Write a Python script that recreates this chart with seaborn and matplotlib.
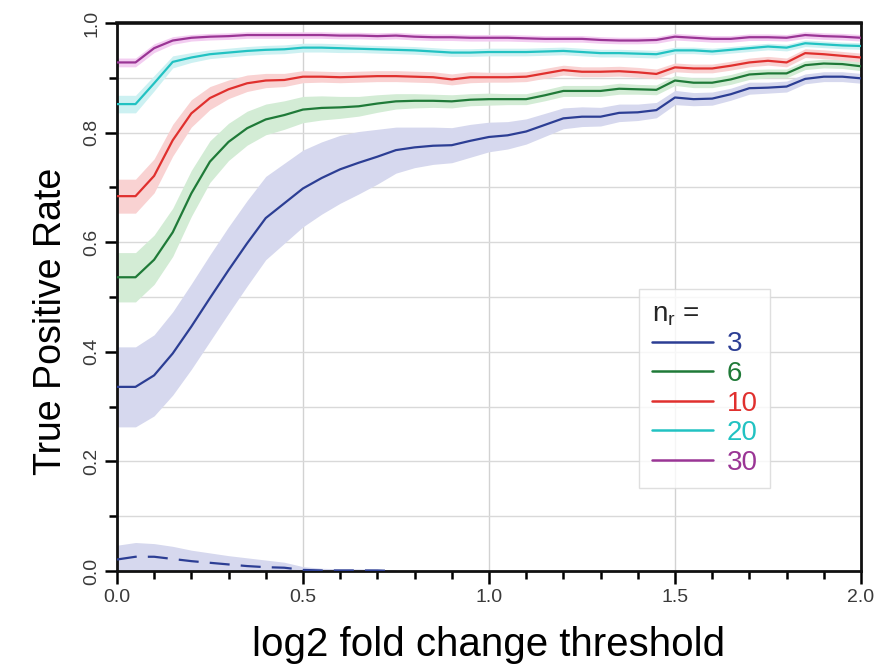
import numpy as np
import pandas as pd
import matplotlib
matplotlib.use("Agg")
import matplotlib.pyplot as plt
from matplotlib.lines import Line2D
import seaborn as sns

# log2 fold-change thresholds
thresholds = [0.00, 0.05, 0.10, 0.15, 0.20, 0.25, 0.30, 0.35, 0.40, 0.45,
              0.50, 0.55, 0.60, 0.65, 0.70, 0.75, 0.80, 0.85, 0.90, 0.95,
              1.00, 1.05, 1.10, 1.15, 1.20, 1.25, 1.30, 1.35, 1.40, 1.45,
              1.50, 1.55, 1.60, 1.65, 1.70, 1.75, 1.80, 1.85, 1.90, 1.95, 2.00]

replicates = ["3", "6", "10", "20", "30"]

# mean true positive rate per replicate count
tpr_3 = [0.336, 0.336, 0.357, 0.397, 0.446, 0.498, 0.549, 0.598, 0.644, 0.671,
         0.698, 0.717, 0.733, 0.745, 0.756, 0.768, 0.773, 0.776, 0.777, 0.785,
         0.792, 0.795, 0.802, 0.814, 0.826, 0.829, 0.829, 0.836, 0.837, 0.841,
         0.864, 0.861, 0.862, 0.870, 0.881, 0.882, 0.884, 0.898, 0.902, 0.902, 0.899]
tpr_6 = [0.536, 0.536, 0.568, 0.618, 0.689, 0.747, 0.783, 0.808, 0.824, 0.832,
         0.842, 0.845, 0.846, 0.848, 0.853, 0.857, 0.858, 0.858, 0.857, 0.860,
         0.861, 0.861, 0.861, 0.868, 0.876, 0.876, 0.876, 0.880, 0.879, 0.878,
         0.895, 0.891, 0.891, 0.897, 0.906, 0.908, 0.908, 0.923, 0.926, 0.925, 0.921]
tpr_10 = [0.684, 0.684, 0.721, 0.786, 0.835, 0.863, 0.879, 0.890, 0.895, 0.896,
          0.902, 0.902, 0.901, 0.902, 0.903, 0.903, 0.902, 0.901, 0.897, 0.901,
          0.901, 0.901, 0.902, 0.908, 0.914, 0.911, 0.911, 0.912, 0.910, 0.907,
          0.919, 0.917, 0.917, 0.922, 0.928, 0.931, 0.928, 0.945, 0.943, 0.940, 0.937]
tpr_20 = [0.852, 0.852, 0.890, 0.929, 0.937, 0.943, 0.946, 0.949, 0.951, 0.952,
          0.955, 0.955, 0.954, 0.953, 0.952, 0.951, 0.950, 0.948, 0.946, 0.946,
          0.947, 0.947, 0.947, 0.948, 0.949, 0.947, 0.945, 0.945, 0.944, 0.943,
          0.950, 0.950, 0.948, 0.951, 0.954, 0.957, 0.955, 0.963, 0.961, 0.959, 0.958]
tpr_30 = [0.928, 0.928, 0.954, 0.968, 0.973, 0.975, 0.976, 0.978, 0.978, 0.978,
          0.978, 0.978, 0.977, 0.977, 0.976, 0.977, 0.975, 0.974, 0.974, 0.973,
          0.973, 0.973, 0.972, 0.971, 0.971, 0.971, 0.969, 0.968, 0.968, 0.969,
          0.975, 0.973, 0.971, 0.971, 0.974, 0.974, 0.973, 0.978, 0.976, 0.975, 0.973]

# half-width of the shaded spread around each mean
spread_3 = [0.073, 0.073, 0.074, 0.076, 0.078, 0.079, 0.079, 0.078, 0.076, 0.073,
            0.070, 0.066, 0.062, 0.057, 0.050, 0.042, 0.037, 0.034, 0.032, 0.030,
            0.027, 0.025, 0.023, 0.021, 0.019, 0.018, 0.017, 0.016, 0.015, 0.014,
            0.013, 0.012, 0.012, 0.011, 0.011, 0.010, 0.010, 0.009, 0.009, 0.009, 0.009]
spread_6 = [0.045, 0.045, 0.045, 0.044, 0.042, 0.038, 0.034, 0.031, 0.028, 0.026,
            0.024, 0.022, 0.020, 0.018, 0.016, 0.014, 0.013, 0.012, 0.012, 0.011,
            0.011, 0.010, 0.010, 0.010, 0.010, 0.010, 0.010, 0.010, 0.009, 0.009,
            0.009, 0.009, 0.009, 0.009, 0.009, 0.008, 0.008, 0.008, 0.008, 0.008, 0.008]
spread_10 = [0.031, 0.031, 0.031, 0.029, 0.025, 0.021, 0.017, 0.015, 0.013, 0.012,
             0.011, 0.010, 0.010, 0.010, 0.010, 0.010, 0.010, 0.010, 0.010, 0.010,
             0.009, 0.009, 0.009, 0.009, 0.009, 0.009, 0.009, 0.009, 0.009, 0.009,
             0.008, 0.008, 0.008, 0.008, 0.008, 0.008, 0.008, 0.008, 0.008, 0.008, 0.008]
spread_20 = [0.016, 0.016, 0.014, 0.011, 0.009, 0.008, 0.008, 0.008, 0.008, 0.008,
             0.008, 0.008, 0.008, 0.007, 0.007, 0.007, 0.007, 0.007, 0.007, 0.007,
             0.007, 0.007, 0.007, 0.007, 0.007, 0.007, 0.007, 0.007, 0.007, 0.007,
             0.006, 0.006, 0.006, 0.006, 0.006, 0.006, 0.006, 0.006, 0.006, 0.006, 0.006]
spread_30 = [0.008, 0.008, 0.008, 0.007, 0.006, 0.006, 0.006, 0.006, 0.006, 0.006,
             0.006, 0.006, 0.006, 0.006, 0.006, 0.006, 0.006, 0.006, 0.006, 0.006,
             0.006, 0.006, 0.006, 0.006, 0.006, 0.006, 0.006, 0.006, 0.006, 0.006,
             0.006, 0.006, 0.006, 0.006, 0.006, 0.006, 0.006, 0.006, 0.006, 0.006, 0.006]

# false-positive rate for n_r = 3 (dashed), only over the low thresholds
fp_thresholds = [0.00, 0.05, 0.10, 0.15, 0.20, 0.25, 0.30, 0.35,
                 0.40, 0.45, 0.50, 0.55, 0.60, 0.65, 0.70, 0.75]
fpr_3 = [0.021, 0.026, 0.026, 0.022, 0.018, 0.015, 0.012, 0.009,
         0.007, 0.006, 0.002, 0.001, 0.001, 0.001, 0.001, 0.000]
fpr_3_upper = [0.047, 0.052, 0.050, 0.045, 0.038, 0.033, 0.028, 0.024,
               0.020, 0.016, 0.008, 0.005, 0.004, 0.004, 0.003, 0.002]

line_colors = ["#2c3e94", "#1f7a38", "#e0302e", "#22c2c2", "#9a3595"]
band_colors = ["#d6d8ee", "#d3ecd5", "#f9d2d2", "#cdf1f2", "#f3cdf1"]

means = [tpr_3, tpr_6, tpr_10, tpr_20, tpr_30]
spreads = [spread_3, spread_6, spread_10, spread_20, spread_30]

frames = []
for lab, m in zip(replicates, means):
    frames.append(pd.DataFrame({"threshold": thresholds, "tpr": m, "n_r": lab}))
df = pd.concat(frames, ignore_index=True)

sns.set_theme(style="white")
plt.rcParams["font.family"] = ["Liberation Sans", "DejaVu Sans"]
plt.rcParams["mathtext.fontset"] = "custom"
plt.rcParams["mathtext.rm"] = "Liberation Sans"
plt.rcParams["mathtext.it"] = "Liberation Sans"

fig = plt.figure(figsize=(8.79, 6.68), dpi=100)
ax = fig.add_axes([0.133, 0.1452, 0.8465, 0.8204])

# grid
for xv in [0.5, 1.0, 1.5]:
    ax.axvline(xv, color="#d2d2d2", lw=1.0, zorder=0)
for yv in np.arange(0.1, 1.0, 0.1):
    ax.axhline(yv, color="#d9d9d9", lw=1.0, zorder=0)

# shaded spreads
x = np.array(thresholds)
for m, s, bc in zip(means, spreads, band_colors):
    m = np.array(m)
    s = np.array(s)
    ax.fill_between(x, m - s, m + s, color=bc, lw=0, zorder=1)
ax.fill_between(fp_thresholds, 0, fpr_3_upper, color=band_colors[0], lw=0, zorder=1)

# mean curves
sns.lineplot(data=df, x="threshold", y="tpr", hue="n_r", hue_order=replicates,
             palette=line_colors, linewidth=1.6, legend=False, ax=ax, zorder=3)
ax.plot(fp_thresholds, fpr_3, color=line_colors[0], lw=1.6,
        dashes=(9, 5), zorder=3)

ax.set_xlim(0, 2.0)
ax.set_ylim(0, 1.0)
ax.set_xticks([0.0, 0.5, 1.0, 1.5, 2.0])
ax.set_xticklabels(["0.0", "0.5", "1.0", "1.5", "2.0"])
ax.set_xticks(np.arange(0, 2.01, 0.1), minor=True)
ax.set_yticks([0.0, 0.2, 0.4, 0.6, 0.8, 1.0])
ax.set_yticklabels(["0.0", "0.2", "0.4", "0.6", "0.8", "1.0"], rotation=90, va="center")
ax.set_yticks(np.arange(0, 1.01, 0.1), minor=True)

ax.tick_params(axis="both", which="major", direction="out", length=9, width=1.8,
               color="black", labelsize=14, labelcolor="#3a3a3a", pad=4)
ax.tick_params(axis="y", which="major", pad=3)
ax.tick_params(axis="both", which="minor", direction="out", length=6, width=1.8,
               color="black")
ax.tick_params(axis="x", which="both", bottom=True)
ax.tick_params(axis="y", which="both", left=True)

for name, sp in ax.spines.items():
    sp.set_visible(True)
    sp.set_color("#111111")
    sp.set_linewidth(2.0)
ax.spines["top"].set_linewidth(2.6)

ax.set_xlabel("log2 fold change threshold", fontsize=29, labelpad=14, color="black")
ax.set_ylabel("True Positive Rate", fontsize=27, labelpad=10, color="black")
ax.yaxis.label.set_y(0.455)

handles = [Line2D([0], [0], color=c, lw=1.8) for c in line_colors]
leg = ax.legend(handles, replicates, title=r"$\mathregular{n_r}$ =",
                loc="upper left", bbox_to_anchor=(0.702, 0.515),
                fontsize=20, title_fontsize=20, frameon=True, fancybox=False,
                handlelength=2.2, handletextpad=0.5, labelspacing=0.13,
                borderpad=0.45, borderaxespad=0)
leg._legend_box.align = "left"
leg.get_frame().set_edgecolor("#d8d8d8")
leg.get_frame().set_linewidth(1.0)
for t, c in zip(leg.get_texts(), line_colors):
    t.set_color(c)

fig.savefig("out.png", dpi=100, facecolor="white")
